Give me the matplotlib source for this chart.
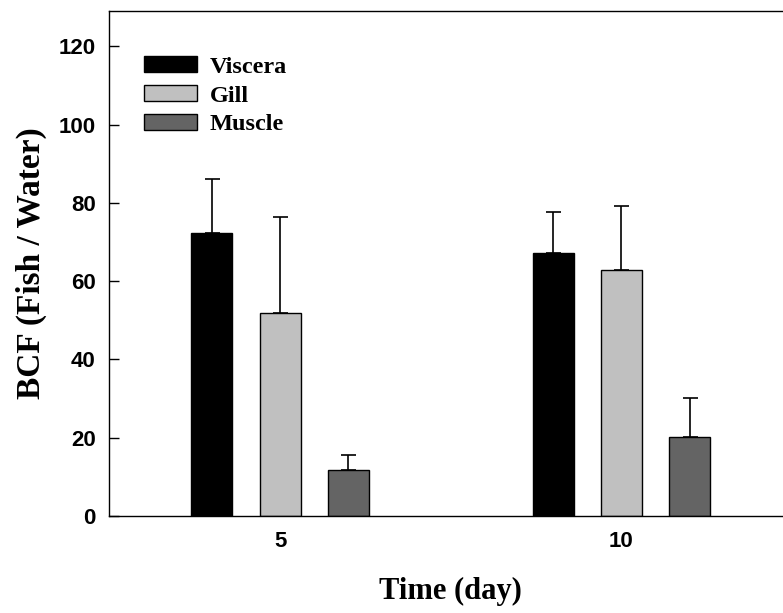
import matplotlib
matplotlib.use("Agg")
import matplotlib.pyplot as plt
import numpy as np

days = [5, 10]
tissues = ["Viscera", "Gill", "Muscle"]
viscera = [72.2, 67.3]
viscera_err = [13.8, 10.4]
gill = [51.9, 62.8]
gill_err = [24.5, 16.5]
muscle = [11.8, 20.1]
muscle_err = [3.9, 10.1]
colors = ["#000000", "#c0c0c0", "#646464"]
ytick_vals = [0, 20, 40, 60, 80, 100, 120]

fig = plt.figure(figsize=(7.83, 6.13), dpi=100)
ax = fig.add_axes([109.5/783, 1-516/613, (792-109.5)/783, (516-11)/613])

x = np.array(days, dtype=float)
offsets = [-1, 0, 1]
width = 0.6
series = [viscera, gill, muscle]
errs = [viscera_err, gill_err, muscle_err]
for off, vals, err, c, name in zip(offsets, series, errs, colors, tissues):
    ax.bar(x + off, vals, width=width, color=c, edgecolor="black", linewidth=1.0,
           label=name, zorder=2)
    ax.errorbar(x + off, vals, yerr=[np.zeros(len(vals)), err], fmt="none",
                ecolor="black", elinewidth=1.2, capsize=5.4, capthick=1.2, zorder=1)

ax.set_xlim(2.5, 12.5)
ax.set_ylim(0, 129)
ax.set_xticks(days)
ax.set_xticklabels([str(d) for d in days])
ax.set_yticks(ytick_vals)
ax.tick_params(axis="x", length=0, pad=11)
ax.tick_params(axis="y", direction="in", length=7, width=1, pad=10)
for lab in ax.get_xticklabels() + ax.get_yticklabels():
    lab.set_fontfamily("Liberation Sans")
    lab.set_fontweight("bold")
    lab.set_fontsize(16)
for sp in ax.spines.values():
    sp.set_linewidth(1.0)

ax.set_xlabel("Time (day)", fontfamily="Liberation Serif", fontweight="bold",
              fontsize=22, labelpad=18)
ax.set_ylabel("BCF (Fish / Water)", fontfamily="Liberation Serif", fontweight="bold",
              fontsize=24, labelpad=8)

leg = ax.legend(loc="upper left", bbox_to_anchor=(0.0505, 0.911), frameon=False,
                prop={"family": "Liberation Serif", "weight": "bold", "size": 17.5},
                handlelength=2.2, handleheight=0.65, handletextpad=0.5,
                labelspacing=0.3, borderaxespad=0, borderpad=0)

fig.savefig("out.png", dpi=100)
